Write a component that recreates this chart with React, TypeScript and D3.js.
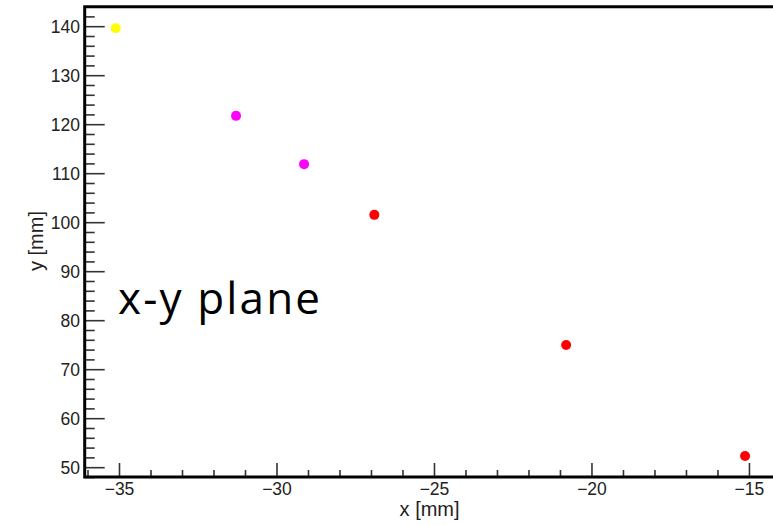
import React from "react";
import * as d3 from "d3";

const xValues = [-35.12, -31.3, -29.14, -26.91, -20.82, -15.14];
const yValues = [139.67, 121.8, 111.95, 101.6, 75.04, 52.4];
const pointColors = ["#ffff00", "#ff00ff", "#ff00ff", "#ff0000", "#ff0000", "#ff0000"];
const xMajorTicks = [-35, -30, -25, -20, -15];
const yMajorTicks = [50, 60, 70, 80, 90, 100, 110, 120, 130, 140];
const xTitle = "x [mm]";
const yTitle = "y [mm]";
const annotation = "x-y plane";

const W = 773;
const H = 525;
const left = 84.7;
const right = 774.5;
const top = 6.7;
const bottom = 477;

export default function App() {
  const x = d3.scaleLinear().domain([-36.105, -14.205]).range([left, right]);
  const y = d3.scaleLinear().domain([48.1, 144.08]).range([bottom, top]);
  const xMinor = d3.range(-36, -14, 1).filter((v) => !xMajorTicks.includes(v));
  const yMinor = d3.range(48, 145, 2).filter((v) => !yMajorTicks.includes(v));
  const font = "'Liberation Sans', Arial, sans-serif";
  const fmt = (v: number) => (v < 0 ? "\u2212" + Math.abs(v) : String(v));
  return (
    <svg
      width={W}
      height={H}
      style={{ position: "absolute", left: 0, top: 0, background: "#fff" }}
    >
      <rect x={0} y={0} width={W} height={H} fill="#fff" />
      <g stroke="#333" strokeWidth={1.6}>
        {xMajorTicks.map((v) => (
          <line key={"xM" + v} x1={x(v)} x2={x(v)} y1={bottom} y2={bottom - 14} />
        ))}
        {xMinor.map((v) => (
          <line key={"xm" + v} x1={x(v)} x2={x(v)} y1={bottom} y2={bottom - 7} />
        ))}
        {yMajorTicks.map((v) => (
          <line key={"yM" + v} x1={left} x2={left + 20} y1={y(v)} y2={y(v)} />
        ))}
        {yMinor.map((v) => (
          <line key={"ym" + v} x1={left} x2={left + 10} y1={y(v)} y2={y(v)} />
        ))}
      </g>
      <path
        d={`M${right + 10},${top} L${left},${top} L${left},${bottom} L${right + 10},${bottom}`}
        fill="none"
        stroke="#000"
        strokeWidth={3}
      />
      <g fontFamily={font} fontSize={17.5} fill="#222">
        {xMajorTicks.map((v) => (
          <text key={"xl" + v} x={x(v)} y={495} textAnchor="middle">
            {fmt(v)}
          </text>
        ))}
        {yMajorTicks.map((v) => (
          <text key={"yl" + v} x={80} y={y(v) + 6.2} textAnchor="end">
            {fmt(v)}
          </text>
        ))}
      </g>
      <text
        x={(left + right) / 2}
        y={516}
        textAnchor="middle"
        fontFamily={font}
        fontSize={20}
        fill="#222"
      >
        {xTitle}
      </text>
      <text
        transform={`translate(43,241) rotate(-90)`}
        textAnchor="middle"
        fontFamily={font}
        fontSize={20}
        fill="#222"
      >
        {yTitle}
      </text>
      {xValues.map((v, i) => (
        <circle key={"p" + i} cx={x(v)} cy={y(yValues[i])} r={5} fill={pointColors[i]} />
      ))}
      <text
        x={118}
        y={314}
        fontFamily="'Open Sans', sans-serif"
        fontSize={44}
        textLength={202}
        lengthAdjust="spacing"
        fill="#000"
      >
        {annotation}
      </text>
    </svg>
  );
}
